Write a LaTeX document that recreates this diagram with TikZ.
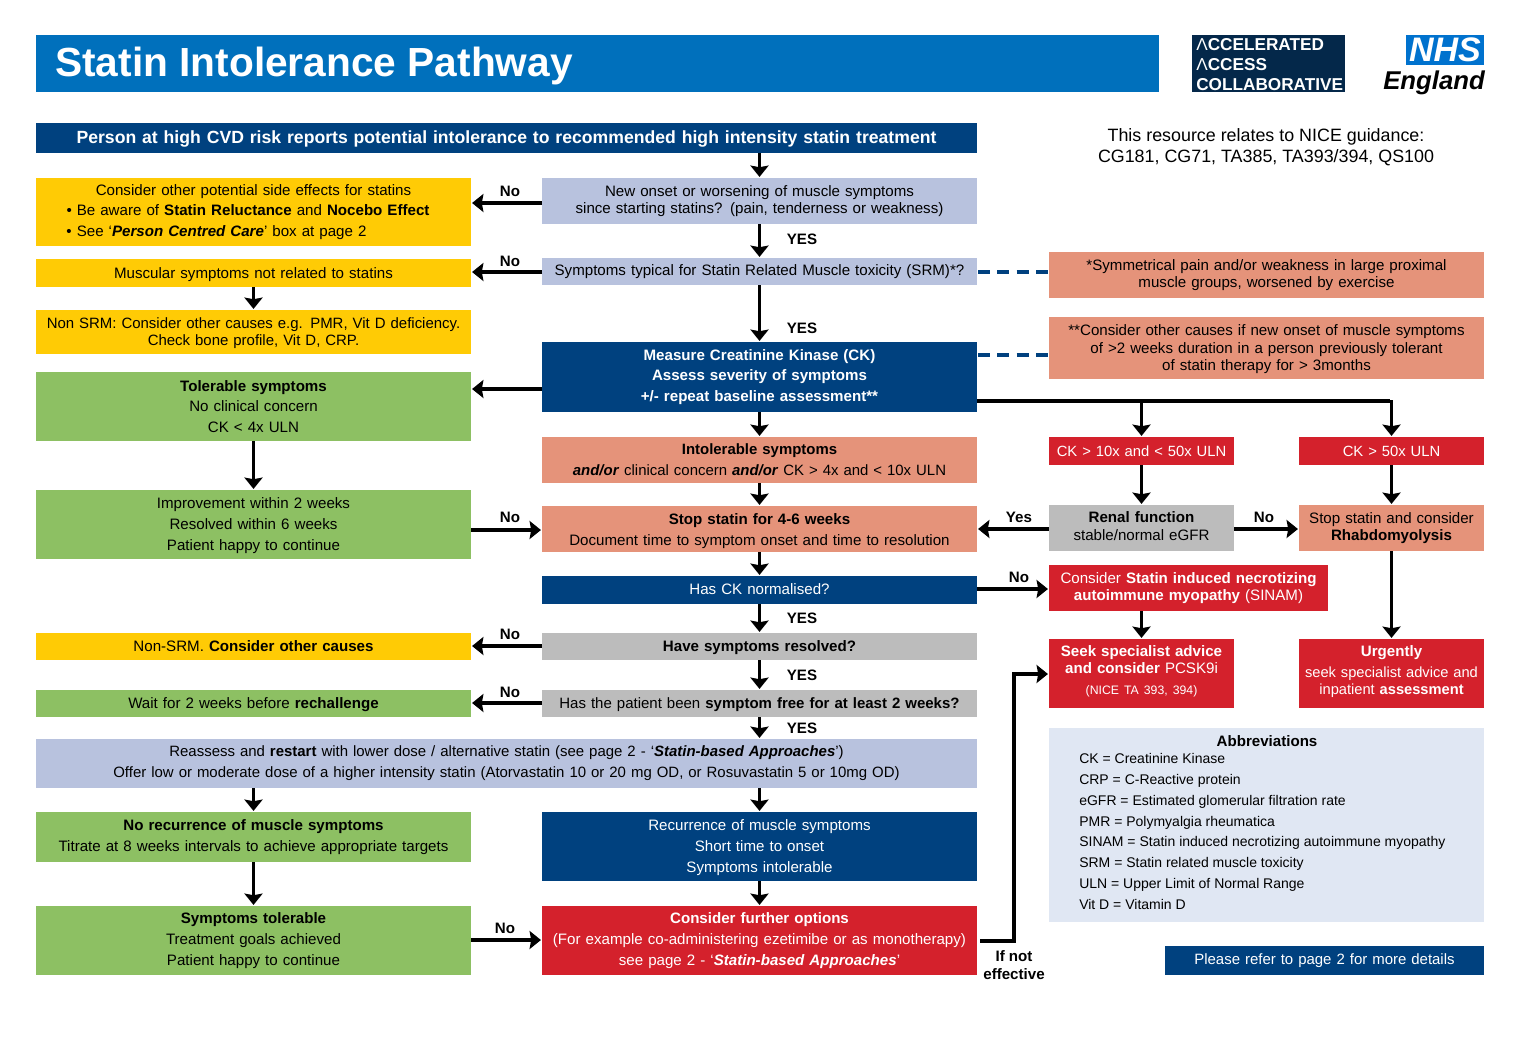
\documentclass[tikz,border=0pt]{standalone}
\usepackage{fontspec}
\setmainfont{Liberation Sans}
\usetikzlibrary{arrows.meta,calc}
\definecolor{titleblue}{HTML}{0070BC}
\definecolor{navy}{HTML}{00417F}
\definecolor{aacnavy}{HTML}{04284A}
\definecolor{nhsblue}{HTML}{0072CE}
\definecolor{lav}{HTML}{B8C2DE}
\definecolor{yel}{HTML}{FFCB05}
\definecolor{grn}{HTML}{8DC063}
\definecolor{salm}{HTML}{E5937A}
\definecolor{redb}{HTML}{D4212C}
\definecolor{greyb}{HTML}{BCBCBC}
\definecolor{pale}{HTML}{E0E7F3}
\newcommand\fs[2]{\fontsize{#1}{#2}\selectfont}
\newcommand\upby{\par\vspace*{3pt}}
\newcommand\dnby{\rule{0pt}{10pt}}
\newcommand\bx[7]{%
  \pgfmathsetmacro\cxx{(#2+#4)/2}\pgfmathsetmacro\cyy{(#3+#5)/2}%
  \pgfmathsetmacro\ww{(#4-#2)*0.75}\pgfmathsetmacro\hh{(#5-#3)*0.75}%
  \node[boxb,#6,minimum width=\ww pt,minimum height=\hh pt,text width=\ww pt-2pt] (#1) at (\cxx,\cyy) {#7};}
\tikzset{
  boxb/.style={inner sep=0pt,outer sep=0pt,align=center,text=black,font=\fs{11.33}{12.9}},
  wide/.style={font=\fs{11.33}{15.6}},
  whitetext/.style={text=white},
  arr/.style={line width=2.7pt,-{Stealth[length=8.5pt,width=13.5pt,inset=1.2pt]},shorten >=0.8pt},
  dashline/.style={navy,line width=2.9pt,dash pattern=on 9pt off 5.5pt},
  lab/.style={font=\fs{11.33}{13}\bfseries,inner sep=0pt,align=center}
}
\begin{document}
\begin{tikzpicture}[x=0.75pt,y=-0.75pt]
\useasboundingbox (0,0) rectangle (1520,1040);
% header band
\bx{title}{36}{35}{1159}{92}{fill=titleblue}{}
\node[anchor=west,inner sep=0pt,text=white,font=\fs{30.5}{34}\bfseries] (titletext) at (55,65.5) {Statin Intolerance Pathway};
\bx{aac}{1192}{35}{1345}{92}{fill=aacnavy}{}
\node[anchor=west,inner sep=0pt,text=white,align=left,font=\fs{12.9}{15}] (aactext) at (1196,64.5) {Λ\textbf{CCELERATED}\\Λ\textbf{CCESS}\\\textbf{COLLABORATIVE}};
\bx{nhs}{1406}{35}{1484}{65}{fill=nhsblue,whitetext,font=\fs{25.5}{25}\bfseries\itshape}{NHS}
\node[anchor=east,inner sep=0pt,font=\fs{19.3}{20}\bfseries\itshape] (england) at (1485,82.5) {England};
\node[inner sep=0pt,align=center,font=\fs{13.4}{15.6}] (nice) at (1266,147.5) {This resource relates to NICE guidance:\\CG181, CG71, TA385, TA393/394, QS100};
% centre column
\bx{hdr}{36}{123}{977}{153}{fill=navy,whitetext,font=\fs{13.22}{15}\bfseries}{\rule{0pt}{11pt}Person at high CVD risk reports potential intolerance to recommended high intensity statin treatment}
\bx{q1}{542}{178}{977}{224}{fill=lav}{New onset or worsening of muscle symptoms\\since starting statins? (pain, tenderness or weakness)}
\bx{q2}{542}{258}{977}{285}{fill=lav}{Symptoms typical for Statin Related Muscle toxicity (SRM)*?}
\bx{ck}{542}{342}{977}{412}{fill=navy,whitetext,font=\fs{11.33}{15.5}\bfseries}{Measure Creatinine Kinase (CK)\\Assess severity of symptoms\\+/- repeat baseline assessment**}
\bx{int}{542}{437}{977}{483}{fill=salm,font=\fs{11.2}{15.6}}{\textbf{Intolerable symptoms}\\\textbf{\textit{and/or}} clinical concern \textbf{\textit{and/or}} CK > 4x and < 10x ULN}
\bx{stop}{542}{506}{977}{552}{fill=salm,wide}{\rule{0pt}{11pt}\textbf{Stop statin for 4-6 weeks}\\Document time to symptom onset and time to resolution}
\bx{hasck}{542}{576}{977}{604}{fill=navy,whitetext}{Has CK normalised?\par\vspace*{1.5pt}}
\bx{resolved}{542}{633}{977}{660}{fill=greyb}{\dnby\textbf{Have symptoms resolved?}}
\bx{free}{542}{690}{977}{717}{fill=greyb,font=\fs{11.25}{12.9}}{\dnby Has the patient been \textbf{symptom free for at least 2 weeks?}}
\bx{reassess}{36}{739}{977}{788}{fill=lav,font=\fs{11.22}{15.6}}{Reassess and \textbf{restart} with lower dose / alternative statin (see page 2 - ‘\textbf{\textit{Statin-based Approaches}}’)\\Offer low or moderate dose of a higher intensity statin (Atorvastatin 10 or 20 mg OD, or Rosuvastatin 5 or 10mg OD)}
\bx{rec}{542}{812}{977}{881}{fill=navy,whitetext,wide}{\dnby Recurrence of muscle symptoms\\Short time to onset\\Symptoms intolerable}
\bx{further}{542}{906}{977}{975}{fill=redb,whitetext,wide}{\textbf{Consider further options}\\(For example co-administering ezetimibe or as monotherapy)\\see page 2 - ‘\textbf{\textit{Statin-based Approaches}}’}
% left column
\bx{y1}{36}{178}{471}{246}{fill=yel,wide}{Consider other potential side effects for statins\\• Be aware of \textbf{Statin Reluctance} and \textbf{Nocebo Effect}\kern8.25pt\\• See ‘\textbf{\textit{Person Centred Care}}’ box at page 2\kern55.5pt}
\bx{y2}{36}{259}{471}{287}{fill=yel}{\dnby Muscular symptoms not related to statins}
\bx{y3}{36}{310}{471}{354}{fill=yel,font=\fs{11.22}{12.9}}{\dnby Non SRM: Consider other causes e.g. PMR, Vit D deficiency.\\Check bone profile, Vit D, CRP.}
\bx{g1}{36}{372}{471}{441}{fill=grn,wide}{\textbf{Tolerable symptoms}\\No clinical concern\\CK < 4x ULN}
\bx{g2}{36}{490}{471}{559}{fill=grn,wide}{\dnby Improvement within 2 weeks\\Resolved within 6 weeks\\Patient happy to continue}
\bx{nonsrm}{36}{633}{471}{660}{fill=yel}{Non-SRM. \textbf{Consider other causes}}
\bx{wait}{36}{690}{471}{717}{fill=grn}{\dnby Wait for 2 weeks before \textbf{rechallenge}}
\bx{norec}{36}{812}{471}{862}{fill=grn,wide}{\textbf{No recurrence of muscle symptoms}\\Titrate at 8 weeks intervals to achieve appropriate targets}
\bx{tol}{36}{906}{471}{975}{fill=grn,wide}{\textbf{Symptoms tolerable}\\Treatment goals achieved\\Patient happy to continue}
% right column
\bx{n1}{1049}{252}{1484}{298}{fill=salm}{*Symmetrical pain and/or weakness in large proximal\\muscle groups, worsened by exercise}
\bx{n2}{1049}{317}{1484}{379}{fill=salm}{\dnby **Consider other causes if new onset of muscle symptoms\\of >2 weeks duration in a person previously tolerant\\of statin therapy for > 3months}
\bx{ckten}{1049}{437}{1234}{465}{fill=redb,whitetext,font=\fs{11.1}{12.9}}{CK > 10x and < 50x ULN}
\bx{ckfifty}{1299}{437}{1484}{465}{fill=redb,whitetext,font=\fs{11.1}{12.9}}{CK > 50x ULN}
\bx{renal}{1049}{505}{1234}{551}{fill=greyb}{\textbf{Renal function}\\stable/normal eGFR\upby}
\bx{rhabdo}{1299}{505}{1484}{551}{fill=salm}{Stop statin and consider\\\textbf{Rhabdomyolysis}}
\bx{sinam}{1049}{565}{1328}{611}{fill=redb,whitetext}{Consider \textbf{Statin induced necrotizing}\\\textbf{autoimmune myopathy} (SINAM)}
\bx{seek}{1049}{639}{1234}{708}{fill=redb,whitetext}{\textbf{Seek specialist advice}\\\textbf{and consider} PCSK9i\\[3pt]{\fs{9.2}{11}(NICE TA 393, 394)}\upby}
\bx{urgent}{1299}{639}{1484}{708}{fill=redb,whitetext,font=\fs{11}{12.9}}{{\fs{11.33}{12.9}\textbf{Urgently}}\\[3pt]seek specialist advice and\\inpatient \textbf{assessment}\upby}
\bx{abbr}{1049}{728}{1484}{922}{fill=pale}{}
\node[inner sep=0pt,font=\fs{11.33}{13}\bfseries] (abbrtitle) at (1267,741) {Abbreviations};
\node[anchor=north west,inner sep=0pt,align=left,font=\fs{10.5}{15.55}] (abbrlist) at (1079,753.5) {CK = Creatinine Kinase\\CRP = C-Reactive protein\\eGFR = Estimated glomerular filtration rate\\PMR = Polymyalgia rheumatica\\SINAM = Statin induced necrotizing autoimmune myopathy\\SRM = Statin related muscle toxicity\\ULN = Upper Limit of Normal Range\\Vit D = Vitamin D};
\bx{refer}{1165}{946}{1484}{975}{fill=navy,whitetext,font=\fs{11.22}{12.9}}{Please refer to page 2 for more details}
% connectors centre
\draw[arr] (hdr.south -| q1.north) -- (q1.north);
\draw[arr] (q1) -- (q2);
\draw[arr] (q2) -- (ck);
\draw[arr] (ck) -- (int);
\draw[arr] (int) -- (stop);
\draw[arr] (stop) -- (hasck);
\draw[arr] (hasck) -- (resolved);
\draw[arr] (resolved) -- (free);
\draw[arr] (free.south) -- (reassess.north -| free.south);
\draw[arr] (reassess.south -| rec.north) -- (rec.north);
\draw[arr] (rec) -- (further);
% connectors to the left
\draw[arr] (q1.west |- 0,203) -- (y1.east |- 0,203);
\draw[arr] (q2.west |- 0,272) -- (y2.east |- 0,272);
\draw[arr] (y2) -- (y3);
\draw[arr] (ck.west |- 0,389) -- (g1.east |- 0,389);
\draw[arr] (g1) -- (g2);
\draw[arr] (g2.east |- 0,530) -- (stop.west |- 0,530);
\draw[arr] (resolved.west |- 0,646) -- (nonsrm.east |- 0,646);
\draw[arr] (free.west |- 0,703) -- (wait.east |- 0,703);
\draw[arr] (reassess.south -| norec.north) -- (norec.north);
\draw[arr] (norec) -- (tol);
\draw[arr] (tol.east |- 0,940) -- (further.west |- 0,940);
% connectors to the right
\draw[arr,-] (ck.east |- 0,401) -- (ckfifty.north |- 0,401);
\draw[arr] (ckten.north |- 0,401) -- (ckten.north);
\draw[arr] (ckfifty.north |- 0,400) -- (ckfifty.north);
\draw[arr] (ckten) -- (renal);
\draw[arr] (ckfifty) -- (rhabdo);
\draw[arr] (rhabdo) -- (urgent);
\draw[arr] (renal.west |- 0,529) -- (stop.east |- 0,529);
\draw[arr] (renal.east |- 0,529) -- (rhabdo.west |- 0,529);
\draw[arr] (hasck.east |- 0,589) -- (sinam.west |- 0,589);
\draw[arr] (ckten.south |- sinam.south) -- (seek.north -| ckten.south);
\draw[arr] ([xshift=2.5pt]further.east |- 0,941) -| (1014,674) -- (seek.west |- 0,674);
\draw[dashline] ([xshift=0.75pt]q2.east |- 0,272) -- (n1.west |- 0,272);
\draw[dashline] ([xshift=0.75pt]ck.east |- 0,355) -- (n2.west |- 0,355);
% labels
\node[lab] (no1) at (510,191) {No};
\node[lab] (no2) at (510,261) {No};
\node[lab] (no3) at (510,517) {No};
\node[lab] (no4) at (510,634) {No};
\node[lab] (no5) at (510,692) {No};
\node[lab] (no6) at (505,928) {No};
\node[lab] (no7) at (1264,517) {No};
\node[lab] (no8) at (1019,577) {No};
\node[lab] (yes0) at (1019,517) {Yes};
\node[lab] (yes1) at (802,239) {YES};
\node[lab] (yes2) at (802,328) {YES};
\node[lab] (yes3) at (802,618) {YES};
\node[lab] (yes4) at (802,675) {YES};
\node[lab] (yes5) at (802,728) {YES};
\node[lab] (ifnot) at (1014,965) {If not\\effective};
\end{tikzpicture}
\end{document}
